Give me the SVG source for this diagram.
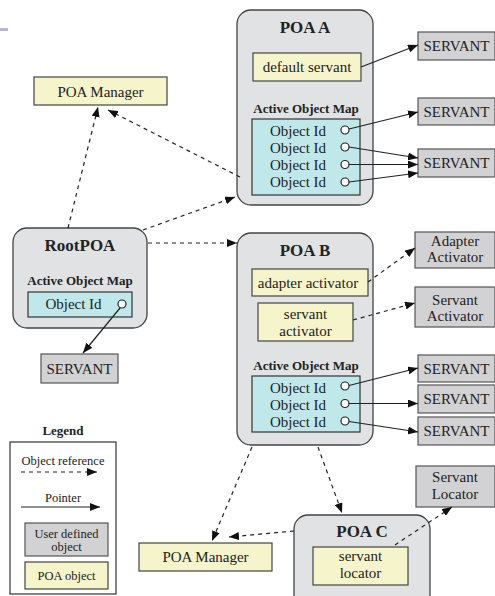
<svg xmlns="http://www.w3.org/2000/svg" width="495" height="596" viewBox="0 0 495 596">
<defs>
<marker id="ah" viewBox="0 0 10 8" refX="10" refY="4" markerWidth="10" markerHeight="8" markerUnits="userSpaceOnUse" orient="auto"><path d="M0,0 L10,4 L0,8 z" fill="#111"/></marker>
<style>
text{font-family:"Liberation Serif","Times New Roman",serif;fill:#222;text-anchor:middle}
.t{font-size:15px}
.s{font-size:12.5px}
.h{font-size:17px;font-weight:bold}
.m{font-size:13px;font-weight:bold}
.poa{fill:#e0e2e4;stroke:#444;stroke-width:1.3}
.y{fill:#f6f4cb;stroke:#444;stroke-width:1.2}
.c{fill:#c0e8ea;stroke:#333;stroke-width:1.2}
.g{fill:#d2d2d4;stroke:#555;stroke-width:1.2}
.o{fill:#fff;stroke:#222;stroke-width:1.2}
.ref{fill:none;stroke:#222;stroke-width:1.2;stroke-dasharray:4 4;marker-end:url(#ah)}
.ptr{fill:none;stroke:#222;stroke-width:1.2;marker-end:url(#ah)}
</style>
</defs>
<rect x="0" y="28" width="8" height="3" fill="#b4b4d6"/>

<g id="poa-manager-top"><rect class="y" x="34" y="77" width="133" height="28"/><text class="t" x="100.5" y="97">POA Manager</text></g>

<g id="poa-a">
<rect class="poa" x="237" y="10" width="136" height="195" rx="14"/>
<text class="h" x="305" y="33">POA A</text>
<rect class="y" x="253" y="53" width="108" height="28"/><text class="t" x="307" y="72">default servant</text>
<text class="m" x="306" y="113">Active Object Map</text>
<rect class="c" x="252" y="119" width="108" height="76"/>
<text class="t" x="298" y="136">Object Id</text><text class="t" x="298" y="153">Object Id</text><text class="t" x="298" y="170">Object Id</text><text class="t" x="298" y="187">Object Id</text>
<circle class="o" cx="345" cy="130" r="4"/><circle class="o" cx="345" cy="147" r="4"/><circle class="o" cx="345" cy="164.5" r="4"/><circle class="o" cx="345" cy="182" r="4"/>
</g>
<g id="servant-a1"><rect class="g" x="418" y="32" width="77" height="28"/><text class="t" x="456.5" y="51">SERVANT</text></g>
<g id="servant-a2"><rect class="g" x="418" y="98" width="77" height="27"/><text class="t" x="456.5" y="116.5">SERVANT</text></g>
<g id="servant-a3"><rect class="g" x="418" y="149" width="77" height="28"/><text class="t" x="456.5" y="168">SERVANT</text></g>

<g id="rootpoa">
<rect class="poa" x="13" y="228" width="134" height="100" rx="14"/>
<text class="h" x="80" y="251">RootPOA</text>
<text class="m" x="80" y="284.5">Active Object Map</text>
<rect class="c" x="28" y="292" width="104" height="25"/>
<text class="t" x="73.5" y="309">Object Id</text>
<circle class="o" cx="122" cy="304" r="4"/>
</g>
<g id="servant-root"><rect class="g" x="41" y="354" width="77" height="29"/><text class="t" x="79.5" y="373.5">SERVANT</text></g>

<g id="poa-b">
<rect class="poa" x="237" y="233" width="136" height="212" rx="14"/>
<text class="h" x="305" y="256">POA B</text>
<rect class="y" x="252" y="269" width="116" height="27"/><text class="t" x="308" y="287.5">adapter activator</text>
<rect class="y" x="258" y="303" width="95" height="38"/><text class="t" x="305.5" y="319">servant</text><text class="t" x="305.5" y="336">activator</text>
<text class="m" x="306" y="369.5">Active Object Map</text>
<rect class="c" x="252" y="376" width="108" height="56"/>
<text class="t" x="298" y="393">Object Id</text><text class="t" x="298" y="410">Object Id</text><text class="t" x="298" y="426.5">Object Id</text>
<circle class="o" cx="345" cy="386" r="4"/><circle class="o" cx="345" cy="403.5" r="4"/><circle class="o" cx="345" cy="421" r="4"/>
</g>
<g id="adapter-activator"><rect class="g" x="415" y="232" width="80" height="36"/><text class="t" x="455" y="246">Adapter</text><text class="t" x="455" y="262">Activator</text></g>
<g id="servant-activator"><rect class="g" x="415" y="287" width="80" height="40"/><text class="t" x="455" y="305">Servant</text><text class="t" x="455" y="321">Activator</text></g>
<g id="servant-b1"><rect class="g" x="418" y="355" width="77" height="27"/><text class="t" x="456.5" y="373.5">SERVANT</text></g>
<g id="servant-b2"><rect class="g" x="418" y="385" width="77" height="28"/><text class="t" x="456.5" y="404">SERVANT</text></g>
<g id="servant-b3"><rect class="g" x="418" y="417" width="77" height="28"/><text class="t" x="456.5" y="436">SERVANT</text></g>

<g id="servant-locator"><rect class="g" x="416" y="466" width="79" height="41"/><text class="t" x="455" y="482">Servant</text><text class="t" x="455" y="499">Locator</text></g>

<g id="poa-c">
<rect class="poa" x="294" y="515" width="136" height="100" rx="14"/>
<text class="h" x="362" y="537">POA C</text>
<rect class="y" x="313" y="547" width="95" height="38"/><text class="t" x="360.5" y="561">servant</text><text class="t" x="360.5" y="578">locator</text>
</g>

<g id="poa-manager-bottom"><rect class="y" x="139" y="543" width="133" height="28"/><text class="t" x="205.5" y="562">POA Manager</text></g>

<g id="legend">
<text class="m" x="63" y="435">Legend</text>
<rect x="10" y="442" width="106" height="152" fill="#fff" stroke="#333" stroke-width="1.2"/>
<text class="s" x="63" y="465">Object reference</text>
<line class="ref" x1="21" y1="472" x2="97" y2="472"/>
<text class="s" x="63" y="502">Pointer</text>
<line class="ptr" x1="21" y1="507" x2="100" y2="507"/>
<rect class="g" x="25" y="523" width="83" height="33"/><text class="s" x="66.5" y="538">User defined</text><text class="s" x="66.5" y="551">object</text>
<rect class="y" x="25" y="562" width="83" height="27"/><text class="s" x="66.5" y="580">POA object</text>
</g>

<g id="connectors">
<line class="ref" x1="68" y1="228" x2="98" y2="107"/>
<line class="ref" x1="240" y1="177" x2="108" y2="110"/>
<line class="ref" x1="143" y1="230" x2="235" y2="197"/>
<line class="ref" x1="148" y1="243" x2="237" y2="243"/>
<line class="ptr" x1="361" y1="67" x2="418" y2="45"/>
<line class="ptr" x1="349" y1="129" x2="418" y2="112"/>
<line class="ptr" x1="349" y1="147" x2="418" y2="158"/>
<line class="ptr" x1="349" y1="164.5" x2="418" y2="164.5"/>
<line class="ptr" x1="349" y1="182" x2="418" y2="173"/>
<line class="ptr" x1="120" y1="308" x2="83" y2="353"/>
<line class="ref" x1="368" y1="282" x2="415" y2="248"/>
<line class="ref" x1="353" y1="320" x2="415" y2="303"/>
<line class="ptr" x1="349" y1="385.5" x2="418" y2="368"/>
<line class="ptr" x1="349" y1="403.5" x2="418" y2="403.5"/>
<line class="ptr" x1="349" y1="421.5" x2="418" y2="432"/>
<line class="ref" x1="318" y1="447" x2="342" y2="513"/>
<line class="ref" x1="252" y1="447" x2="212" y2="541"/>
<line class="ref" x1="294" y1="531" x2="229" y2="537"/>
<line class="ref" x1="395" y1="545" x2="452" y2="507"/>
</g>
</svg>
